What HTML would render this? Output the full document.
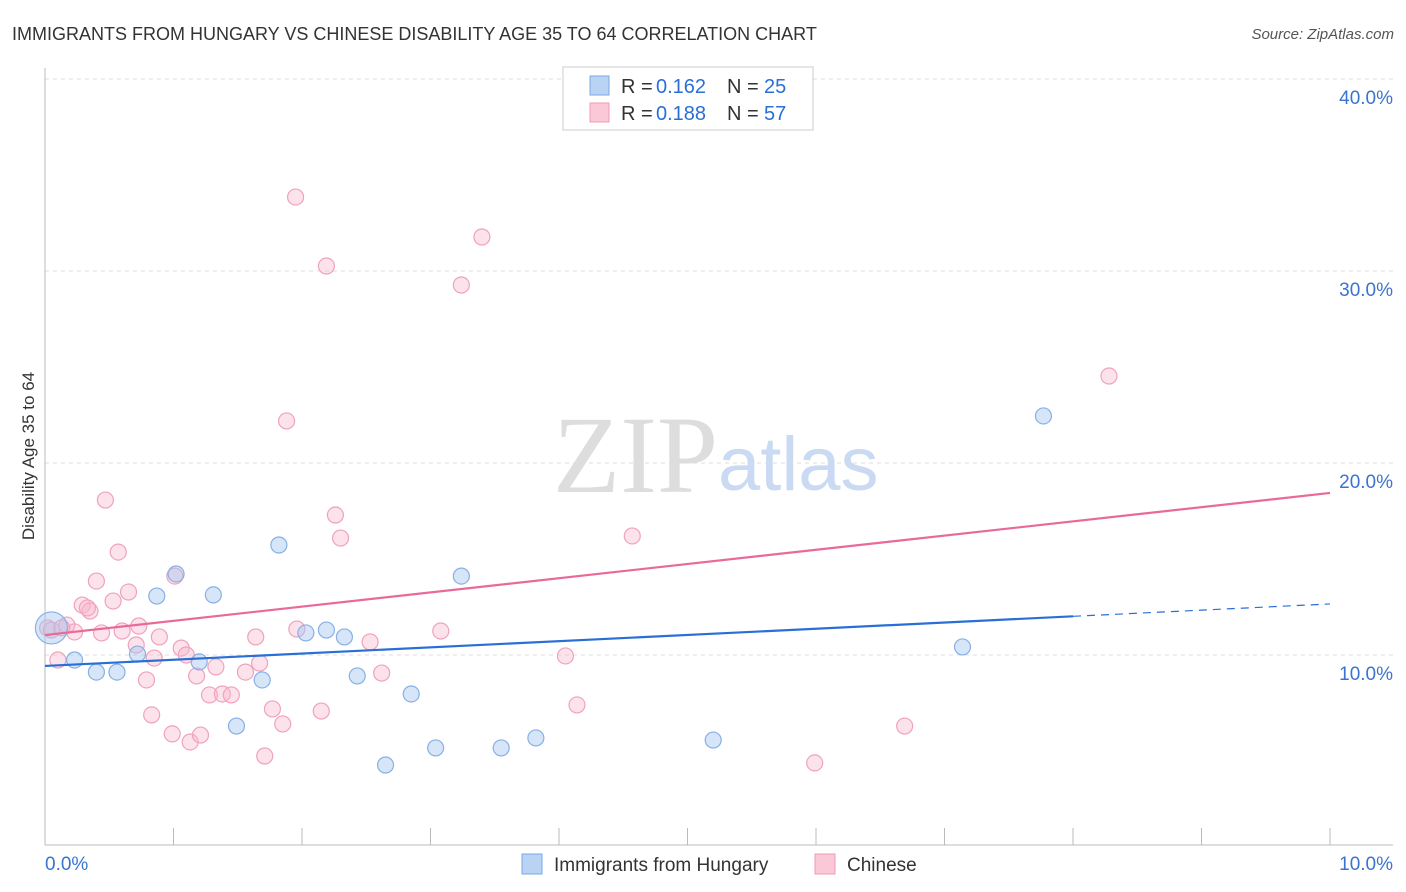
<!DOCTYPE html>
<html><head><meta charset="utf-8"><style>
body{margin:0;background:#fff;font-family:"Liberation Sans",sans-serif;}
svg{display:block}
</style></head><body>
<svg id="chart" width="1406" height="892" xmlns="http://www.w3.org/2000/svg">
<text x="12" y="40" font-size="18" fill="#333">IMMIGRANTS FROM HUNGARY VS CHINESE DISABILITY AGE 35 TO 64 CORRELATION CHART</text>
<text x="1394" y="39" font-size="15" fill="#555" font-style="italic" text-anchor="end">Source: ZipAtlas.com</text>
<g id="grid"></g>
<g id="axes"></g>
<text x="553" y="492" font-size="110" fill="#ddd" font-family="Liberation Serif,serif">ZIP</text>
<text x="718" y="490" font-size="76" fill="#c9daf2">atlas</text>
<g id="marks"></g>
<text transform="translate(34,456) rotate(-90)" font-size="17" fill="#333" text-anchor="middle">Disability Age 35 to 64</text>
<g>
<rect x="563" y="67" width="250" height="63" fill="#fff" stroke="#ccc"/>
<rect x="590" y="76" width="19" height="19" fill="#b9d3f5" stroke="#7aa7e6"/>
<rect x="590" y="103" width="19" height="19" fill="#fbc8d8" stroke="#f09ab6"/>
<text y="93" font-size="20" fill="#333"><tspan x="621">R =</tspan><tspan x="656" fill="#2a6fd6">0.162</tspan><tspan x="727">N =</tspan><tspan x="764" fill="#2a6fd6">25</tspan></text>
<text y="120" font-size="20" fill="#333"><tspan x="621">R =</tspan><tspan x="656" fill="#2a6fd6">0.188</tspan><tspan x="727">N =</tspan><tspan x="764" fill="#2a6fd6">57</tspan></text>
</g>
<g>
<rect x="522" y="854" width="20" height="20" fill="#b9d3f5" stroke="#7aa7e6"/>
<text x="554" y="871" font-size="19" fill="#333">Immigrants from Hungary</text>
<rect x="815" y="854" width="20" height="20" fill="#fbc8d8" stroke="#f09ab6"/>
<text x="847" y="871" font-size="19" fill="#333">Chinese</text>
</g>
</svg>
<script>
const yTicks=[10,20,30,40];
const yTickLabels=["10.0%","20.0%","30.0%","40.0%"];
const xTickCount=10;
const blueX=[0.05,0.23,0.40,0.56,0.72,0.87,1.02,1.20,1.31,1.49,1.69,1.82,2.03,2.19,2.33,2.43,2.65,2.85,3.04,3.24,3.55,3.82,5.20,7.14,7.77];
const blueY=[11.41,9.74,9.11,9.11,10.05,13.07,14.22,9.64,13.13,6.30,8.70,15.73,11.15,11.30,10.94,8.91,4.27,7.97,5.16,14.11,5.16,5.68,5.57,10.42,22.45];
const pinkX=[0.02,0.10,0.17,0.23,0.29,0.35,0.40,0.44,0.47,0.53,0.57,0.60,0.65,0.71,0.73,0.79,0.83,0.85,0.89,0.99,1.01,1.06,1.10,1.13,1.18,1.21,1.28,1.33,1.38,1.45,1.56,1.64,1.67,1.71,1.77,1.85,1.88,1.95,1.96,2.15,2.19,2.26,2.30,2.53,2.62,3.08,3.24,3.40,4.05,4.14,4.57,5.99,6.69,8.28,0.05,0.13,0.33];
const pinkY=[11.41,9.74,11.56,11.20,12.60,12.29,13.85,11.15,18.07,12.81,15.36,11.25,13.28,10.52,11.51,8.70,6.88,9.84,10.94,5.89,14.11,10.36,10.00,5.47,8.91,5.83,7.92,9.38,7.97,7.92,9.11,10.94,9.58,4.74,7.19,6.41,22.19,33.85,11.35,7.08,30.26,17.29,16.09,10.68,9.06,11.25,29.27,31.77,9.95,7.40,16.20,4.38,6.30,24.53,11.30,11.41,12.45];
const blueTrend=[9.43,12.66];
const pinkTrend=[11.04,18.44];
const blueSolidEnd=8.0;

const NS="http://www.w3.org/2000/svg";
const X=v=>45+v*128.5;
const Y=v=>847-v*19.2;
function mk(tag,attrs,parent){const e=document.createElementNS(NS,tag);for(const k in attrs)e.setAttribute(k,attrs[k]);parent.appendChild(e);return e;}
const grid=document.getElementById('grid'),axes=document.getElementById('axes'),marks=document.getElementById('marks');
yTicks.forEach((t,i)=>{
  const l=mk('line',{x1:45,x2:1393,y1:Y(t),y2:Y(t),stroke:'#ddd','stroke-dasharray':'4,4'},grid);
  
  
  const tx=mk('text',{x:1393,y:Y(t)+25,'font-size':19,fill:'#3a74d0','text-anchor':'end'},axes);
  tx.textContent=yTickLabels[i];
  
  
});
mk('line',{x1:45,x2:45,y1:68,y2:845,stroke:'#bbb'},axes);
mk('line',{x1:45,x2:1393,y1:845,y2:845,stroke:'#bbb'},axes);
for(let i=0;i<=xTickCount;i++){
  const t=mk('line',{x1:X(i),x2:X(i),y1:828,y2:845,stroke:'#bbb'},axes);
  
  
}
const xl0=mk('text',{x:45,y:870,'font-size':19,fill:'#3a74d0'},axes);xl0.textContent="0.0%";


const xl1=mk('text',{x:1393,y:870,'font-size':19,fill:'#3a74d0','text-anchor':'end'},axes);xl1.textContent="10.0%";



pinkX.forEach((x,i)=>{
  const c=mk('circle',{cx:X(x),cy:Y(pinkY[i]),r:8,fill:'rgba(248,182,204,0.4)',stroke:'#f0a2bc','stroke-width':1.2},marks);
  
  
});
blueX.forEach((x,i)=>{
  const c=mk('circle',{cx:X(x),cy:Y(blueY[i]),r:i===0?16:8,fill:'rgba(165,198,240,0.45)',stroke:'#86b0e6','stroke-width':1.2},marks);
  
  
});
const by=v=>blueTrend[0]+(blueTrend[1]-blueTrend[0])*v/10;
const bl=mk('line',{x1:X(0),y1:Y(blueTrend[0]),x2:X(blueSolidEnd),y2:Y(by(blueSolidEnd)),stroke:'#2a6fd6','stroke-width':2.2},marks);


const bd=mk('line',{x1:X(blueSolidEnd),y1:Y(by(blueSolidEnd)),x2:X(10),y2:Y(blueTrend[1]),stroke:'#2a6fd6','stroke-width':1.2,'stroke-dasharray':'8,6'},marks);


const pl=mk('line',{x1:X(0),y1:Y(pinkTrend[0]),x2:X(10),y2:Y(pinkTrend[1]),stroke:'#e8699a','stroke-width':2.2},marks);


</script>
</body></html>
